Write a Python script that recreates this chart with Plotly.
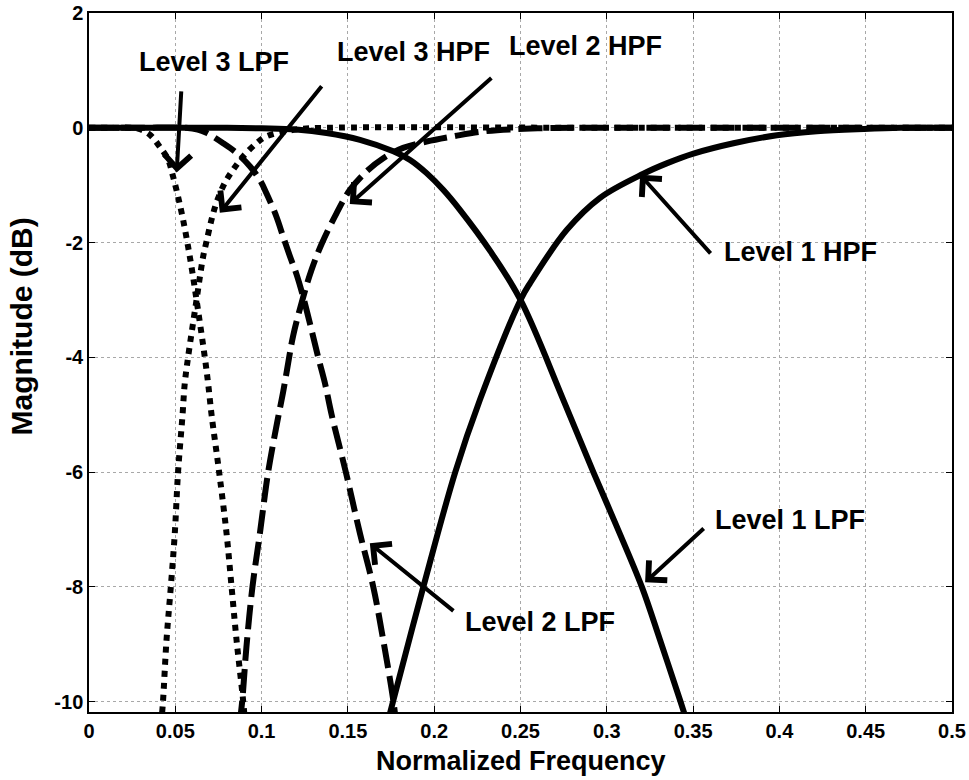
import plotly.graph_objects as go

# Axis ticks
x_ticks = [0, 0.05, 0.1, 0.15, 0.2, 0.25, 0.3, 0.35, 0.4, 0.45, 0.5]
x_tick_text = ["0", "0.05", "0.1", "0.15", "0.2", "0.25", "0.3", "0.35", "0.4", "0.45", "0.5"]
y_ticks = [-10, -8, -6, -4, -2, 0, 2]
y_tick_text = ["-10", "-8", "-6", "-4", "-2", "0", "2"]

# Level 1 low-pass response (normalized frequency, dB)
l1_lpf_f = [0, 0.04, 0.08, 0.1, 0.12, 0.1376, 0.157, 0.1763, 0.186, 0.1956, 0.2052, 0.2149,
            0.2325, 0.25, 0.2748, 0.2922, 0.3058, 0.3203, 0.3309, 0.3425, 0.347]
l1_lpf_db = [0, 0, 0, -0.01, -0.03, -0.09, -0.21, -0.41, -0.56, -0.79, -1.08, -1.43,
             -2.15, -3.0, -4.74, -6.0, -6.95, -8.0, -8.93, -9.98, -10.4]

# Level 1 high-pass response
l1_hpf_f = [0.1727, 0.1763, 0.1937, 0.2122, 0.2265, 0.25, 0.2555, 0.2768, 0.2961, 0.3212,
            0.3347, 0.3502, 0.3734, 0.3985, 0.4217, 0.4488, 0.47, 0.5]
l1_hpf_db = [-10.4, -9.98, -8.0, -6.0, -4.74, -3.0, -2.71, -1.78, -1.22, -0.8,
             -0.62, -0.45, -0.27, -0.13, -0.06, -0.02, 0, 0]

# Level 2 low-pass response
l2_lpf_f = [0, 0.03, 0.056, 0.063, 0.0681, 0.0777, 0.0855, 0.0932, 0.099, 0.1028, 0.1086, 0.1125,
            0.1164, 0.1202, 0.1241, 0.1289, 0.1328, 0.1367, 0.1405, 0.1488, 0.157, 0.1647,
            0.1705, 0.1763, 0.178]
l2_lpf_db = [0, 0, 0, -0.03, -0.09, -0.27, -0.44, -0.67, -0.91, -1.14, -1.55, -1.9,
             -2.24, -2.55, -2.95, -3.52, -4.0, -4.45, -4.99, -6.0, -7.07, -8.0,
             -8.93, -9.98, -10.4]

# Level 2 high-pass response
l2_hpf_f = [0.0872, 0.0888, 0.0912, 0.0947, 0.099, 0.1038, 0.1091, 0.1125, 0.1154, 0.1183,
            0.1241, 0.129, 0.1347, 0.1434, 0.1512, 0.1608, 0.1705, 0.182, 0.1956, 0.211,
            0.2284, 0.26, 0.3, 0.4, 0.5]
l2_hpf_db = [-10.4, -9.98, -9.05, -8.0, -7.07, -6.0, -5.12, -4.6, -4.1, -3.62,
             -2.95, -2.47, -2.03, -1.49, -1.08, -0.76, -0.53, -0.35, -0.24, -0.15,
             -0.064, -0.01, 0, 0, 0]

# Level 3 low-pass response
l3_lpf_f = [0, 0.012, 0.024, 0.029, 0.0352, 0.041, 0.0459, 0.0487, 0.0516, 0.0545, 0.0574, 0.0598,
            0.0623, 0.0671, 0.069, 0.071, 0.0754, 0.0797, 0.0826, 0.0855, 0.0893, 0.0905]
l3_lpf_db = [0, 0, 0, -0.02, -0.12, -0.33, -0.56, -0.85, -1.2, -1.6, -2.07, -2.5,
             -3.0, -4.0, -4.45, -5.0, -6.0, -7.07, -8.0, -8.93, -9.98, -10.4]

# Level 3 high-pass response
l3_hpf_f = [0.0418, 0.0429, 0.0449, 0.0474, 0.0497, 0.0516, 0.0541, 0.0555, 0.0574, 0.0623,
            0.0661, 0.0681, 0.071, 0.0739, 0.0787, 0.0835, 0.0893, 0.097, 0.1028, 0.12,
            0.14, 0.3, 0.5]
l3_hpf_db = [-10.4, -9.98, -8.93, -8.0, -7.07, -6.0, -5.04, -4.45, -4.0, -3.0,
             -2.25, -1.98, -1.6, -1.3, -0.96, -0.73, -0.5, -0.27, -0.15, -0.03,
             0, 0, 0]

# Callout labels: text, text position, arrow tip, arrow tail
labels = ["Level 3 LPF", "Level 3 HPF", "Level 2 HPF", "Level 1 HPF", "Level 1 LPF", "Level 2 LPF"]
label_x = [0.0724, 0.1882, 0.2874, 0.412, 0.4062, 0.2613]
label_y = [1.151, 1.326, 1.43, -2.163, -6.84, -8.62]
tip_x = [0.0508, 0.0758, 0.1511, 0.3193, 0.3222, 0.1627]
tip_y = [-0.78, -1.48, -1.33, -0.82, -7.92, -7.24]
tail_x = [0.0535, 0.1355, 0.234, 0.3609, 0.357, 0.212]
tail_y = [0.66, 0.75, 0.89, -2.215, -6.96, -8.44]

FONT = "Liberation Sans, Arial, sans-serif"
LW = 6
SOLID = "solid"
DASH = "24px,8px"
DOT = "6px,6px"

series = [
    (l1_lpf_f, l1_lpf_db, SOLID),
    (l1_hpf_f, l1_hpf_db, SOLID),
    (l2_lpf_f, l2_lpf_db, DASH),
    (l2_hpf_f, l2_hpf_db, DASH),
    (l3_lpf_f, l3_lpf_db, DOT),
    (l3_hpf_f, l3_hpf_db, DOT),
]

fig = go.Figure()
for f, db, dash in series:
    fig.add_trace(go.Scatter(
        x=f, y=db, mode="lines",
        line=dict(color="black", width=LW, dash=dash, shape="spline", smoothing=1.0),
        showlegend=False, hoverinfo="skip",
    ))

annotations = []
for i, txt in enumerate(labels):
    annotations.append(dict(
        x=tip_x[i], y=tip_y[i], xref="x", yref="y",
        ax=tail_x[i], ay=tail_y[i], axref="x", ayref="y",
        text="", showarrow=True, arrowhead=4, arrowsize=1.3, arrowwidth=4,
        arrowcolor="black", standoff=0, startstandoff=0,
    ))
    annotations.append(dict(
        x=label_x[i], y=label_y[i], xref="x", yref="y",
        text=txt, showarrow=False, xanchor="center", yanchor="middle",
        font=dict(family=FONT, size=27, color="black", weight="bold"),
    ))

# axis titles
annotations.append(dict(
    x=0.5, y=-0.07, xref="paper", yref="paper", text="Normalized Frequency",
    showarrow=False, xanchor="center", yanchor="middle",
    font=dict(family=FONT, size=27, color="black", weight="bold"),
))
annotations.append(dict(
    x=-0.078, y=0.551, xref="paper", yref="paper", text="Magnitude (dB)",
    showarrow=False, xanchor="center", yanchor="middle", textangle=-90,
    font=dict(family=FONT, size=30, color="black", weight="bold"),
))

axis_common = dict(
    showgrid=True, gridcolor="#a8a8a8", griddash="dot", gridwidth=1,
    zeroline=False, showline=True, linecolor="black", linewidth=1.5,
    mirror="allticks", ticks="inside", ticklen=6, tickcolor="black",
    automargin=False,
    tickfont=dict(family=FONT, size=20, color="black", weight="bold"),
)

fig.update_layout(
    width=969, height=780,
    margin=dict(l=89, r=17, t=13, b=68),
    paper_bgcolor="white", plot_bgcolor="white",
    xaxis=dict(range=[0, 0.5], tickvals=x_ticks, ticktext=x_tick_text, **axis_common),
    yaxis=dict(range=[-10.18, 2.0], tickvals=y_ticks, ticktext=y_tick_text, **axis_common),
    annotations=annotations,
)

fig.write_html("out.html")
